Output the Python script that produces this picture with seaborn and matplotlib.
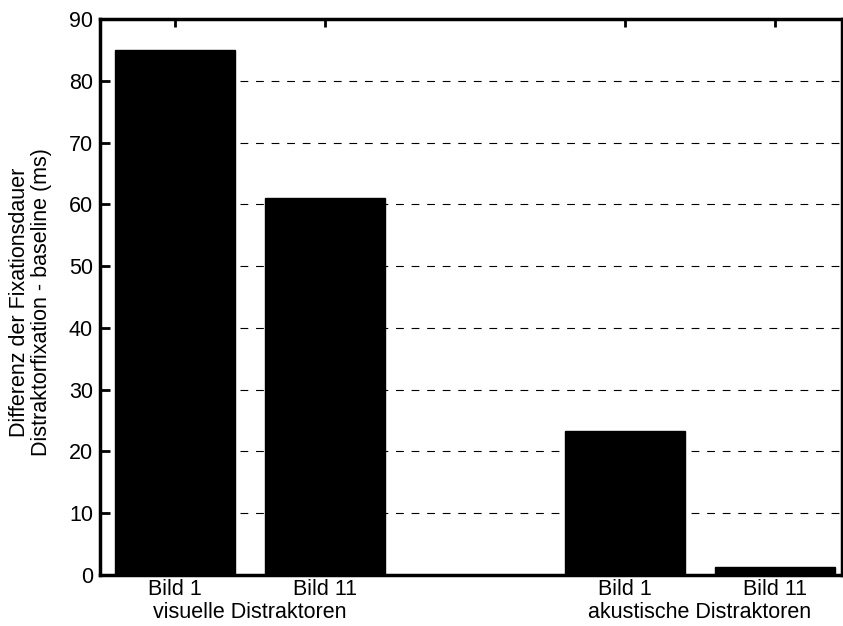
import matplotlib
matplotlib.use("Agg")
import matplotlib.pyplot as plt
import seaborn as sns
import pandas as pd

positions = [1, 2, 4, 5]
values = [85, 61.1, 23.3, 1.3]
tick_labels = ["Bild 1", "Bild 11", "Bild 1", "Bild 11"]
group_labels = ["visuelle Distraktoren", "akustische Distraktoren"]
group_pos = [1.5, 4.5]
ylabel_lines = ["Differenz der Fixationsdauer", "Distraktorfixation - baseline (ms)"]

sns.set_theme(style="white")
plt.rcParams['font.family'] = ['Liberation Sans', 'DejaVu Sans']
plt.rcParams['text.color'] = 'black'
plt.rcParams['xtick.color'] = 'black'
plt.rcParams['ytick.color'] = 'black'

FS = 15.5
df = pd.DataFrame({"pos": positions, "val": values})

W, H = 843, 626
fig = plt.figure(figsize=(W/100, H/100), dpi=100)
ax = fig.add_axes([100/W, 1-575/H, 742/W, (575-19)/H])

for y in range(10, 90, 10):
    ax.axhline(y, color="black", lw=0.8, ls=(0, (7, 7)), zorder=0)

sns.barplot(data=df, x="pos", y="val", native_scale=True, width=0.8,
            color="black", saturation=1, edgecolor="black", ax=ax, zorder=2)

ax.set_xlim(0.5, 5.447)
ax.set_ylim(0, 90)
ax.set_yticks(range(0, 91, 10))
ax.set_xticks(positions)
ax.set_xticklabels(tick_labels, fontsize=FS)
ax.tick_params(axis="y", labelsize=FS, direction="in", length=7, width=2, left=True, right=False, pad=5)
ax.tick_params(axis="x", direction="in", length=6, width=2, bottom=True, top=True, pad=3)
for s in ax.spines.values():
    s.set_linewidth(2.5)
    s.set_color("black")
    s.set_visible(True)
ax.set_xlabel("")
ax.set_ylabel("")
for gp, gl in zip(group_pos, group_labels):
    ax.text(gp, -27/556, gl, transform=ax.get_xaxis_transform(), ha="center", va="top", fontsize=FS)

fig.text(20/W, 1-302/H, ylabel_lines[0], rotation=90, ha="center", va="center", fontsize=FS)
fig.text(42/W, 1-302/H, ylabel_lines[1], rotation=90, ha="center", va="center", fontsize=FS)

fig.savefig("out.png", dpi=100)
